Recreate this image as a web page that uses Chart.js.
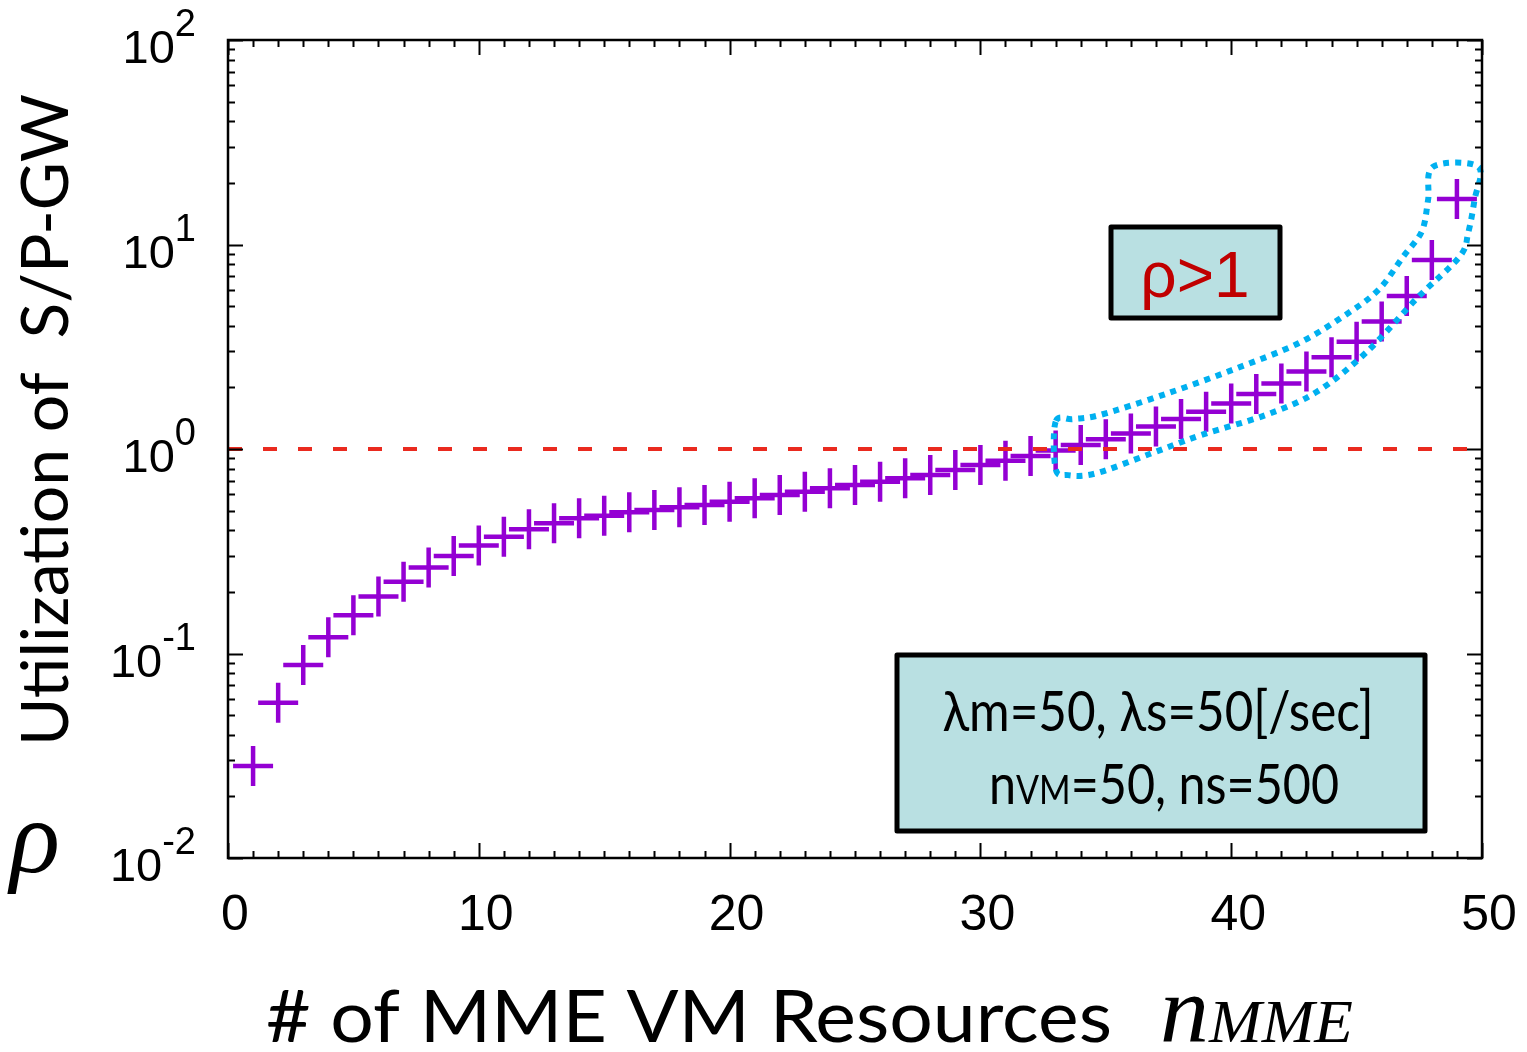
<!DOCTYPE html>
<html>
<head>
<meta charset="utf-8">
<script src="https://cdn.jsdelivr.net/npm/chart.js@4.4.1/dist/chart.umd.min.js"></script>
<style>
  html, body { margin: 0; padding: 0; background: #fff; }
</style>
</head>
<body>
<canvas id="rhoChart" width="1527" height="1052"></canvas>
<script>
// n_MME on the x axis, utilization rho of the S/P-GW on the y axis (log)
const nMME = [1, 2, 3, 4, 5, 6, 7, 8, 9, 10, 11, 12, 13, 14, 15, 16, 17, 18, 19, 20,
  21, 22, 23, 24, 25, 26, 27, 28, 29, 30, 31, 32, 33, 34, 35, 36, 37, 38, 39, 40,
  41, 42, 43, 44, 45, 46, 47, 48, 49];
const utilization = [0.0282, 0.0574, 0.0879, 0.120, 0.154, 0.190, 0.224, 0.263, 0.300, 0.337,
  0.372, 0.405, 0.433, 0.458, 0.472, 0.490, 0.503, 0.519, 0.532, 0.552,
  0.574, 0.596, 0.618, 0.643, 0.667, 0.692, 0.719, 0.746, 0.789, 0.835,
  0.877, 0.925, 0.982, 1.047, 1.115, 1.19, 1.29, 1.40, 1.52, 1.67,
  1.86, 2.09, 2.39, 2.81, 3.35, 4.20, 5.60, 8.40, 16.7];

// rho = 1 reference line
const thresholdX = [0, 50];
const thresholdY = [1, 1];

// tick labels
const xTickLabels = ['0', '10', '20', '30', '40', '50'];
const yTickExponents = ['-2', '-1', '0', '1', '2'];

// dotted outline round the rho > 1 points (data units)
const outlineX = [33.0, 33.0, 33.5, 34.6, 36.8, 38.8, 41.4, 43.4, 45.4, 47.4, 49.1, 49.45, 49.7, 49.85,
  48.05, 47.85, 47.6, 46.85, 45.9, 44.7, 42.7, 40.1, 37.4, 34.8, 33.7];
const outlineY = [1.36, 0.80, 0.745, 0.76, 0.95, 1.17, 1.47, 1.90, 2.98, 5.45, 8.7, 11.4, 16.5, 24.0,
  24.0, 16.5, 11.6, 8.7, 6.05, 4.65, 3.30, 2.45, 1.86, 1.47, 1.40];

const SANS = '"Liberation Sans", Arial, sans-serif';
const CAL = 'Lato, "Open Sans", sans-serif';
const SERIF = '"Liberation Serif", "DejaVu Serif", serif';

// draws a row of text pieces; fitW squeezes/stretches the row to that width
function drawRuns(ctx, runs, x, y, align, fitW) {
  let total = 0;
  runs.forEach(r => { ctx.font = r.font; r.w = ctx.measureText(r.t).width; total += r.w; });
  const f = fitW ? fitW / total : 1;
  const w = total * f;
  const x0 = align === 'center' ? x - w / 2 : align === 'right' ? x - w : x;
  ctx.save();
  ctx.translate(x0, y);
  ctx.scale(f, 1);
  let cx = 0;
  runs.forEach(r => {
    ctx.font = r.font;
    ctx.fillStyle = r.color || '#000';
    ctx.textAlign = 'left';
    ctx.fillText(r.t, cx, r.dy || 0);
    cx += r.w;
  });
  ctx.restore();
}

function box(ctx, l, t, r, b) {
  ctx.save();
  ctx.fillStyle = '#b9e0e2';
  ctx.strokeStyle = '#000';
  ctx.lineWidth = 5;
  ctx.lineJoin = 'round';
  ctx.beginPath();
  ctx.rect(l, t, r - l, b - t);
  ctx.fill();
  ctx.stroke();
  ctx.restore();
}

const decorations = {
  id: 'decorations',
  afterDatasetsDraw(chart) {
    const {ctx, scales: {x, y}} = chart;
    // blue dotted outline, closed catmull-rom curve through the outline points
    const p = outlineX.map((v, i) => [x.getPixelForValue(v), y.getPixelForValue(outlineY[i])]);
    const n = p.length;
    ctx.save();
    ctx.strokeStyle = '#00b0f0';
    ctx.lineWidth = 6;
    ctx.setLineDash([6, 6]);
    ctx.beginPath();
    ctx.moveTo(p[0][0], p[0][1]);
    for (let i = 0; i < n; i++) {
      const p0 = p[(i - 1 + n) % n], p1 = p[i], p2 = p[(i + 1) % n], p3 = p[(i + 2) % n];
      const t = 0.5 / 3;
      ctx.bezierCurveTo(
        p1[0] + (p2[0] - p0[0]) * t, p1[1] + (p2[1] - p0[1]) * t,
        p2[0] - (p3[0] - p1[0]) * t, p2[1] - (p3[1] - p1[1]) * t,
        p2[0], p2[1]);
    }
    ctx.closePath();
    ctx.stroke();
    ctx.restore();
  },
  afterDraw(chart) {
    const {ctx, chartArea: a, scales: {x, y}} = chart;
    ctx.save();
    ctx.strokeStyle = '#000';
    ctx.lineWidth = 2;
    // inward ticks, x
    ctx.beginPath();
    for (let i = x.min; i <= x.max; i++) {
      const px = Math.round(x.getPixelForValue(i)) + 0.5;
      const len = i % 10 === 0 ? 15 : 7;
      ctx.moveTo(px, a.bottom); ctx.lineTo(px, a.bottom - len);
      ctx.moveTo(px, a.top); ctx.lineTo(px, a.top + len);
    }
    // inward ticks, y
    for (let k = -2; k <= 2; k++) {
      for (let m = 1; m <= 9; m++) {
        if (k === 2 && m > 1) break;
        const py = Math.round(y.getPixelForValue(m * Math.pow(10, k))) + 0.5;
        const len = m === 1 ? 15 : 7;
        ctx.moveTo(a.left, py); ctx.lineTo(a.left + len, py);
        ctx.moveTo(a.right, py); ctx.lineTo(a.right - len, py);
      }
    }
    ctx.stroke();
    // frame
    ctx.lineWidth = 2.5;
    ctx.strokeRect(a.left, a.top, a.right - a.left, a.bottom - a.top);

    // x tick labels
    ctx.fillStyle = '#000';
    ctx.textBaseline = 'alphabetic';
    xTickLabels.forEach(lbl => {
      const px = x.getPixelForValue(Number(lbl)) + 7;
      drawRuns(ctx, [{t: lbl, font: '50px ' + SANS}], px, a.bottom + 72, 'center');
    });
    // y tick labels 10^k
    yTickExponents.forEach(e => {
      const py = y.getPixelForValue(Math.pow(10, Number(e)));
      ctx.font = '38px ' + SANS;
      const ew = ctx.measureText(e).width;
      drawRuns(ctx, [{t: e, font: '38px ' + SANS}], 196, py - 4, 'right');
      drawRuns(ctx, [{t: '10', font: '47px ' + SANS}], 196 - ew, py + 23, 'right');
    });

    // axis titles
    ctx.save();
    ctx.translate(68, 420);
    ctx.rotate(-Math.PI / 2);
    drawRuns(ctx, [{t: 'Utilization of  S/P-GW', font: '66px ' + CAL}], 0, 0, 'center');
    ctx.restore();
    drawRuns(ctx, [{t: '\u03C1', font: 'italic 104px ' + SERIF}], 10, 872, 'left');

    drawRuns(ctx, [{t: '# of MME VM Resources', font: '72px ' + CAL}], 266, 1042, 'left', 846);
    drawRuns(ctx, [
      {t: 'n', font: 'italic 96px ' + SERIF},
      {t: 'MME', font: 'italic 62px ' + SERIF}
    ], 1160, 1042, 'left', 193);

    // annotation boxes
    box(ctx, 1111, 227, 1280, 318);
    drawRuns(ctx, [{t: '\u03C1>1', font: '64px ' + SANS, color: '#c00000'}], 1195, 297, 'center');

    box(ctx, 897, 655, 1425, 831);
    drawRuns(ctx, [{t: '\u03BBm=50, \u03BBs=50[/sec]', font: '57px ' + CAL}], 1158, 731, 'center', 431);
    drawRuns(ctx, [
      {t: 'n', font: '57px ' + CAL},
      {t: 'VM', font: '40px ' + CAL},
      {t: '=50, ns=500', font: '57px ' + CAL}
    ], 1164, 804, 'center', 350);
    ctx.restore();
  }
};

const ctx = document.getElementById('rhoChart').getContext('2d');
new Chart(ctx, {
  type: 'scatter',
  data: {
    datasets: [{
      type: 'line',
      data: thresholdX.map((v, i) => ({x: v, y: thresholdY[i]})),
      borderColor: '#ea2a1f',
      borderWidth: 4,
      borderDash: [14, 21],
      pointRadius: 0,
      fill: false,
      order: 0
    }, {
      data: nMME.map((v, i) => ({x: v, y: utilization[i]})),
      pointStyle: 'cross',
      pointRadius: 20,
      pointBorderWidth: 4.5,
      borderColor: '#9400d3',
      backgroundColor: '#9400d3',
      order: 1
    }]
  },
  options: {
    responsive: false,
    animation: false,
    events: [],
    layout: {padding: {left: 0, right: 45, top: 40, bottom: 0}},
    plugins: {legend: {display: false}, tooltip: {enabled: false}},
    scales: {
      x: {
        type: 'linear', min: 0, max: 50,
        grid: {display: false}, border: {display: false},
        ticks: {display: false},
        afterFit: s => { s.height = 194; }
      },
      y: {
        type: 'logarithmic', min: 0.01, max: 100,
        grid: {display: false}, border: {display: false},
        ticks: {display: false},
        afterFit: s => { s.width = 228; }
      }
    }
  },
  plugins: [decorations]
});
</script>
</body>
</html>
